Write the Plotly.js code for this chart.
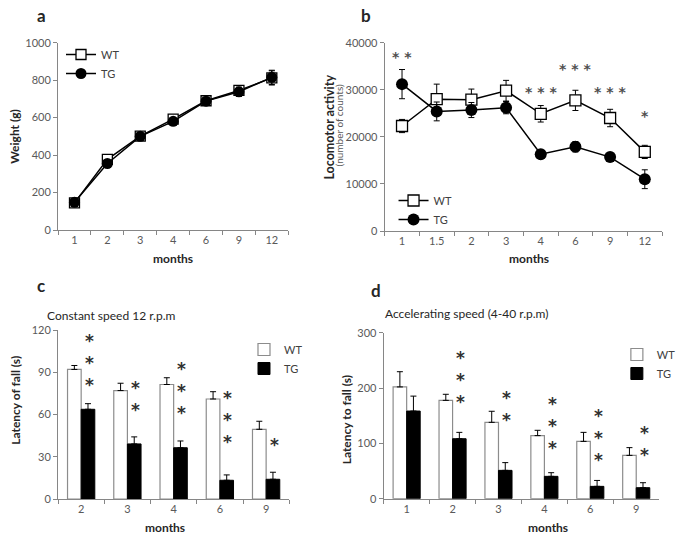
<!DOCTYPE html>
<html><head><meta charset="utf-8">
<script src="https://cdn.plot.ly/plotly-3.0.1.min.js"></script>
<style>html,body{margin:0;padding:0;background:#fff}#chart{width:681px;height:538px}</style>
</head><body><div id="chart"></div>
<script>
// ---------- Panel a: body weight ----------
const monthsA = ['1','2','3','4','6','9','12'];
const weightWT = [145, 377, 501, 592, 690, 745, 812];
const weightWTErr = [8, 10, 10, 12, 14, 18, 38];
const weightTG = [148, 355, 500, 580, 688, 738, 815];
const weightTGErr = [8, 10, 10, 12, 14, 25, 38];

// ---------- Panel b: locomotor activity ----------
const monthsB = ['1','1.5','2','3','4','6','9','12'];
const actWT = [22300, 28000, 27900, 29800, 24900, 27750, 24000, 16800];
const actWTErr = [1400, 3200, 2250, 2200, 1750, 2150, 1850, 1400];
const actTG = [31200, 25400, 25700, 26200, 16300, 17900, 15700, 11000];
const actTGErr = [3100, 2000, 1600, 1300, 800, 1100, 950, 2000];
const bStars = [2, 0, 0, 0, 3, 3, 3, 1];
const bStarY = [37750, null, null, null, 30450, 35250, 30450, 25350];

// ---------- Panel c: constant speed rotarod ----------
const monthsC = ['2','3','4','6','9'];
const constWT = [92, 77, 81.3, 71, 49.5];
const constWTErr = [2.8, 5.2, 4.8, 5.2, 5.7];
const constTG = [63.7, 39.1, 36.4, 13.3, 14];
const constTGErr = [4, 5, 4.8, 3.8, 5];
const cStars = [3, 2, 3, 3, 1];
const cStarBase = [83.1, 65.6, 63.2, 42.6, 40.3];

// ---------- Panel d: accelerating rotarod ----------
const monthsD = ['1','2','3','4','6','9'];
const accWT = [202, 177.7, 138, 114, 103.6, 78.3];
const accWTErr = [27.5, 11, 20, 9.6, 16.3, 14];
const accTG = [158.4, 108.4, 51.2, 40.4, 22.3, 19.9];
const accTGErr = [27, 11.5, 14, 6.6, 10.7, 9];
const dStars = [0, 3, 2, 3, 3, 2];
const dStarBase = [null, 179.9, 147, 97, 76, 85];

const W = 681, H = 538;
const px = x => x / W;
const py = y => 1 - y / H;
const FONT = 'Lato, "Open Sans", sans-serif';
const STARFONT = '"DejaVu Sans", sans-serif';
const AXC = '#868686', TICKC = '#595959', TXT = '#262626';

function zeros(n){ return new Array(n).fill(0); }

const traces = [];
// a
traces.push({x: monthsA, y: weightWT, type:'scatter', mode:'lines+markers', name:'WT', xaxis:'x', yaxis:'y', legend:'legend',
  line:{color:'#000', width:1.5}, marker:{symbol:'square', size:10, color:'#fff', line:{color:'#000', width:1.3}},
  error_y:{type:'data', array: weightWTErr, color:'#000', thickness:1, width:3}});
traces.push({x: monthsA, y: weightTG, type:'scatter', mode:'lines+markers', name:'TG', xaxis:'x', yaxis:'y', legend:'legend',
  line:{color:'#000', width:1.5}, marker:{symbol:'circle', size:11, color:'#000'},
  error_y:{type:'data', array: weightTGErr, color:'#000', thickness:1, width:3}});
// b
traces.push({x: monthsB, y: actWT, type:'scatter', mode:'lines+markers', name:'WT', xaxis:'x2', yaxis:'y2', legend:'legend2',
  line:{color:'#000', width:1.5}, marker:{symbol:'square', size:11, color:'#fff', line:{color:'#000', width:1.3}},
  error_y:{type:'data', array: actWTErr, color:'#000', thickness:1, width:3}});
traces.push({x: monthsB, y: actTG, type:'scatter', mode:'lines+markers', name:'TG', xaxis:'x2', yaxis:'y2', legend:'legend2',
  line:{color:'#000', width:1.5}, marker:{symbol:'circle', size:12, color:'#000'},
  error_y:{type:'data', array: actTGErr, color:'#000', thickness:1, width:3}});
// c
traces.push({x: monthsC, y: constWT, type:'bar', name:'WT', xaxis:'x3', yaxis:'y3', legend:'legend3',
  marker:{color:'#fff', line:{color:'#8c8c8c', width:1.2}},
  error_y:{type:'data', symmetric:false, array: constWTErr, arrayminus: zeros(constWT.length), color:'#000', thickness:1, width:3}});
traces.push({x: monthsC, y: constTG, type:'bar', name:'TG', xaxis:'x3', yaxis:'y3', legend:'legend3',
  marker:{color:'#000', line:{color:'#000', width:1}},
  error_y:{type:'data', symmetric:false, array: constTGErr, arrayminus: zeros(constTG.length), color:'#000', thickness:1, width:3}});
// d
traces.push({x: monthsD, y: accWT, type:'bar', name:'WT', xaxis:'x4', yaxis:'y4', legend:'legend4',
  marker:{color:'#fff', line:{color:'#8c8c8c', width:1.2}},
  error_y:{type:'data', symmetric:false, array: accWTErr, arrayminus: zeros(accWT.length), color:'#000', thickness:1, width:3}});
traces.push({x: monthsD, y: accTG, type:'bar', name:'TG', xaxis:'x4', yaxis:'y4', legend:'legend4',
  marker:{color:'#000', line:{color:'#000', width:1}},
  error_y:{type:'data', symmetric:false, array: accTGErr, arrayminus: zeros(accTG.length), color:'#000', thickness:1, width:3}});

function xax(x0, x1, anchor, n){
  return {domain:[px(x0), px(x1)], anchor, type:'category', range:[-0.5, n-0.5],
    showline:true, linecolor:AXC, linewidth:1, ticks:'outside', tickson:'boundaries', ticklen:4, tickcolor:AXC,
    tickfont:{family:FONT, size:11, color:TICKC}, showgrid:false, zeroline:false, fixedrange:true};
}
function yax(y0, y1, anchor, range, dtick){
  return {domain:[py(y1), py(y0)], anchor, range, dtick, tickformat:'d',
    showline:true, linecolor:AXC, linewidth:1, ticks:'outside', ticklen:4, tickcolor:AXC,
    tickfont:{family:FONT, size:11, color:TICKC}, showgrid:false, zeroline:false, fixedrange:true};
}

function legendAt(xpx, ypx){
  return {x:px(xpx), y:py(ypx), xanchor:'left', yanchor:'top', bgcolor:'rgba(0,0,0,0)',
    font:{family:FONT, size:11, color:'#404040'}, itemwidth:30, tracegroupgap:0};
}

const ann = [];
function txt(x, y, text, size, opts){
  ann.push(Object.assign({xref:'paper', yref:'paper', x:px(x), y:py(y), text, showarrow:false,
    font:{family:FONT, size, color:TXT}, xanchor:'center', yanchor:'middle'}, opts||{}));
}
// panel letters
txt(42, 15, '<b>a</b>', 17);
txt(372, 15, '<b>b</b>', 17);
txt(42, 285, '<b>c</b>', 17);
txt(382, 290, '<b>d</b>', 17);
// subtitles
txt(46, 315, 'Constant speed 12 r.p.m', 12, {xanchor:'left'});
txt(389, 313, 'Accelerating speed (4-40 r.p.m)', 12, {xanchor:'left'});
// x titles
txt(176, 258, '<b>months</b>', 12);
txt(538, 258, '<b>months</b>', 12);
txt(168, 527, '<b>months</b>', 12);
txt(557, 527, '<b>months</b>', 12);
// y titles
txt(15, 136, '<b>Weight (g)</b>', 12, {textangle:-90});
txt(334, 127, '<b>Locomotor activity</b>', 12.5, {textangle:-90});
txt(345, 125, '(number of counts)', 10, {textangle:-90, font:{family:FONT, size:10, color:'#595959'}});
txt(15, 400, '<b>Latency of fall (s)</b>', 12, {textangle:-90});
txt(352, 420, '<b>Latency to fall (s)</b>', 12, {textangle:-90});

// significance stars (x given as category index)
bStars.forEach((n, i) => {
  if (!n) return;
  ann.push({xref:'x2', yref:'y2', x: i, y: bStarY[i], text: '<b>' + new Array(n).fill('*').join(' ') + '</b>',
    showarrow:false, font:{family:STARFONT, size:14, color:'#505050'}, yanchor:'middle', yshift:-4});
});
function barStars(stars, base, xr, yr){
  stars.forEach((n, i) => {
    if (!n) return;
    ann.push({xref:xr, yref:yr, x: i, y: base[i], text: '<b>' + new Array(n).fill('*').join('<br>') + '</b>',
      showarrow:false, font:{family:STARFONT, size:17, color:'#303030'}, yanchor:'bottom', xshift:8, yshift:-15});
  });
}
barStars(cStars, cStarBase, 'x3', 'y3');
barStars(dStars, dStarBase, 'x4', 'y4');

const layout = {
  width: W, height: H, margin:{l:0, r:0, t:0, b:0}, paper_bgcolor:'#fff', plot_bgcolor:'#fff',
  font:{family:FONT, color:TXT}, barmode:'group', bargap:0.41, bargroupgap:0,
  xaxis: xax(59, 293, 'y', monthsA.length),
  yaxis: yax(42.7, 230, 'x', [0, 1000], 200),
  xaxis2: xax(391, 673, 'y2', monthsB.length),
  yaxis2: yax(42.7, 231, 'x2', [0, 40000], 10000),
  xaxis3: xax(59, 294, 'y3', monthsC.length),
  yaxis3: yax(330, 499, 'x3', [0, 120], 30),
  xaxis4: xax(390, 670, 'y4', monthsD.length),
  yaxis4: yax(332.7, 498.7, 'x4', [0, 300], 100),
  legend: legendAt(62, 40),
  legend2: legendAt(400, 186),
  legend3: legendAt(248, 335),
  legend4: legendAt(627, 340),
  annotations: ann,
  showlegend: true
};
Plotly.newPlot('chart', traces, layout, {displayModeBar:false, staticPlot:true});
</script>
</body></html>
